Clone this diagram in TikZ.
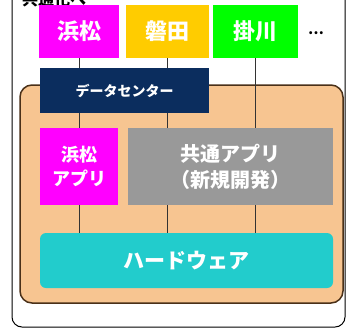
\documentclass[tikz,border=0pt]{standalone}
\usepackage{fontspec}
\setmainfont{Noto Sans CJK JP}
\usetikzlibrary{backgrounds}
\definecolor{cityA}{HTML}{FF00FF}
\definecolor{cityB}{HTML}{FFCC00}
\definecolor{cityC}{HTML}{00FF00}
\definecolor{dcblue}{HTML}{0B2D5E}
\definecolor{basefill}{HTML}{F7C591}
\definecolor{baseline}{HTML}{4A3018}
\definecolor{greybox}{HTML}{999999}
\definecolor{hwfill}{HTML}{22CCCC}
\tikzset{
  box/.style={inner sep=0pt, align=center, text=white, font=\bfseries},
  city/.style={box, minimum height=53pt, font=\bfseries\fontsize{22}{24}\selectfont},
  link/.style={line width=1pt, draw=black!80},
}
\begin{document}
\begin{tikzpicture}[x=1pt,y=-1pt]
\useasboundingbox (0,0) rectangle (347,333);
% top cropped caption
\node[anchor=base west, font=\bfseries\fontsize{16}{18}\selectfont, inner sep=0pt] (cap) at (22,5) {共通化へ};
% city boxes
\node[city, fill=cityA, minimum width=80pt] (hm) at (79,31.5) {浜松};
\node[city, fill=cityB, minimum width=83pt] (iw) at (167.5,31.5) {磐田};
\node[city, fill=cityC, minimum width=85pt] (kk) at (255.5,31.5) {掛川};
\node[font=\bfseries\fontsize{14}{16}\selectfont, inner sep=0pt] (more) at (316,33) {…};
% data center
\node[box, fill=dcblue, minimum width=169pt, minimum height=45pt, font=\bfseries\fontsize{14}{16}\selectfont] (dc) at (124.5,90.5) {データセンター};
% apps
\node[box, fill=cityA, minimum width=78pt, minimum height=77pt, font=\bfseries\fontsize{18}{24}\selectfont] (hmapp) at (79,166.5) {浜松\\アプリ};
\node[box, fill=greybox, minimum width=205pt, minimum height=77pt, font=\bfseries\fontsize{20}{26}\selectfont] (common) at (230.5,166.5) {共通アプリ\\（新規開発）};
% hardware
\node[box, fill=hwfill, rounded corners=6pt, minimum width=293pt, minimum height=55pt, font=\bfseries\fontsize{21}{23}\selectfont] (hw) at (186.5,260.5) {ハードウェア};
\begin{scope}[on background layer]
  \draw[black, line width=1pt, rounded corners=10pt] (12,-20) rectangle (345,327);
  \node[draw=baseline, line width=1.5pt, fill=basefill, rounded corners=12pt, minimum width=323pt, minimum height=218pt, inner sep=0pt] (base) at (181.5,194) {};
  \draw[link] (hm.south) -- (dc.north -| hm.south);
  \draw[link] (dc.south -| hmapp.north) -- (hmapp.north);
  \draw[link] (hmapp.south) -- (hw.north -| hmapp.south);
  \draw[link] (iw.south) -- (dc.north -| iw.south);
  \draw[link] (dc.south -| iw.south) -- (common.north -| iw.south);
  \draw[link] (common.south -| iw.south) -- (hw.north -| iw.south);
  \draw[link] (kk.south) -- (hw.north -| kk.south);
\end{scope}
\end{tikzpicture}
\end{document}
